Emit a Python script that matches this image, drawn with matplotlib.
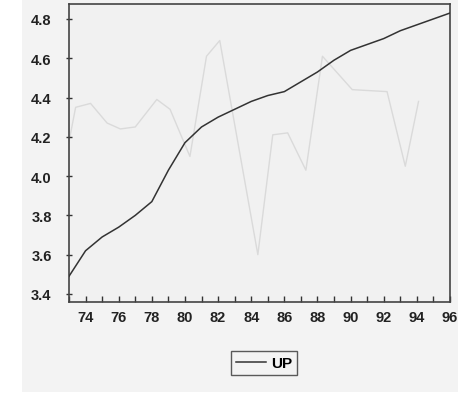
import numpy as np
import matplotlib.pyplot as plt
from matplotlib.patches import Rectangle

plt.rcParams['font.family'] = ['Liberation Sans', 'DejaVu Sans']

## Data
years = [73, 74, 75, 76, 77, 78, 79, 80, 81, 82, 83, 84,
         85, 86, 87, 88, 89, 90, 91, 92, 93, 94, 95, 96]
up = [3.49, 3.62, 3.69, 3.74, 3.80, 3.87, 4.03, 4.17, 4.25, 4.30, 4.34, 4.38,
      4.41, 4.43, 4.48, 4.53, 4.59, 4.64, 4.67, 4.70, 4.74, 4.77, 4.80, 4.83]

# faint show-through line from the other side of the page
ghost_x = [72.6, 73.4, 74.3, 75.3, 76.1, 77.0, 78.3, 79.1, 80.3, 81.3, 82.1,
           84.4, 85.3, 86.2, 87.3, 88.3, 90.1, 92.2, 93.3, 94.1]
ghost_y = [4.00, 4.35, 4.37, 4.27, 4.24, 4.25, 4.39, 4.34, 4.10, 4.61, 4.69,
           3.60, 4.21, 4.22, 4.03, 4.61, 4.44, 4.43, 4.05, 4.38]

fig = plt.figure(figsize=(4.58, 4.02), dpi=100)
fig.patch.set_facecolor('white')
# scanned page area
fig.patches.append(Rectangle((22/458, 1-393/402), 1, 393/402, transform=fig.transFigure,
                             facecolor='#f3f3f3', edgecolor='none', zorder=-5))

ax = fig.add_axes([69/458, 99/402, 381/458, 298/402])
ax.set_zorder(2)
ax.set_facecolor('#f1f1f1')

ax.plot(ghost_x, ghost_y, color='#dadada', linewidth=1.0, zorder=1)
ax.plot(years, up, color='#333333', linewidth=1.1, label='UP', zorder=3)

ax.set_xlim(73, 96)
ax.set_ylim(3.359, 4.876)
ax.set_xticks(np.arange(73, 97, 1), minor=True)
ax.set_xticks(np.arange(74, 97, 2))
ax.set_xticklabels([str(v) for v in range(74, 97, 2)])
ax.set_yticks([3.4, 3.6, 3.8, 4.0, 4.2, 4.4, 4.6, 4.8])
ax.set_yticklabels(['3.4', '3.6', '3.8', '4.0', '4.2', '4.4', '4.6', '4.8'])

ax.tick_params(axis='both', which='both', direction='in', length=4, width=1,
               colors='#333333', labelsize=10.5, labelcolor='#222222')
ax.tick_params(axis='y', direction='inout', length=5, pad=10)
ax.tick_params(axis='x', pad=6)
for lab in ax.get_xticklabels() + ax.get_yticklabels():
    lab.set_fontweight('bold')
for s in ax.spines.values():
    s.set_color('#444444')
    s.set_linewidth(1.2)

leg = fig.legend(loc='center', bbox_to_anchor=(264/458, 1-364/402), fontsize=11,
                 frameon=True, fancybox=False, handlelength=2.0, handletextpad=0.3,
                 borderpad=0.35, borderaxespad=0,
                 prop={'weight': 'bold', 'size': 11})
leg.set_zorder(3)
leg.get_frame().set_edgecolor('#333333')
leg.get_frame().set_facecolor('#f3f3f3')
leg.get_frame().set_linewidth(1.0)

fig.savefig('out.png', dpi=100)
